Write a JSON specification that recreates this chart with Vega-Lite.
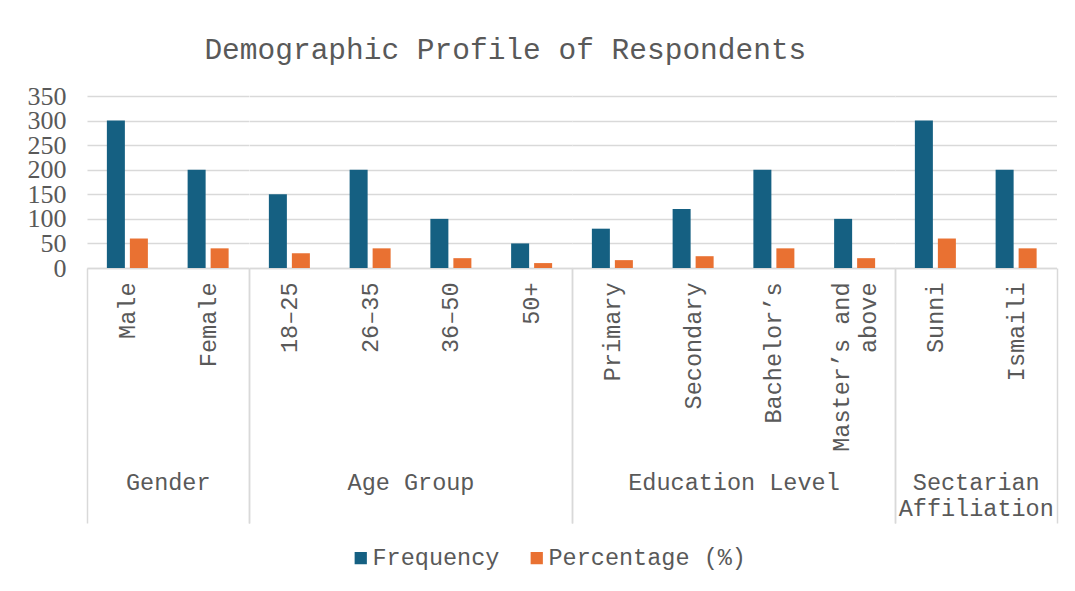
{
  "$schema": "https://vega.github.io/schema/vega-lite/v6.json",
  "background": "white",
  "padding": {"left": 27, "top": 34, "right": 10, "bottom": 10},
  "title": {"text": "Demographic Profile of Respondents", "font": "Liberation Mono", "fontSize": 29.5, "fontWeight": "normal", "color": "#595959", "offset": 18, "anchor": "middle", "dx": -37},
  "data": {"values": [
    {"group": "Gender", "category": "Male", "series": "Frequency", "value": 300},
    {"group": "Gender", "category": "Male", "series": "Percentage (%)", "value": 60},
    {"group": "Gender", "category": "Female", "series": "Frequency", "value": 200},
    {"group": "Gender", "category": "Female", "series": "Percentage (%)", "value": 40},
    {"group": "Age Group", "category": "18–25", "series": "Frequency", "value": 150},
    {"group": "Age Group", "category": "18–25", "series": "Percentage (%)", "value": 30},
    {"group": "Age Group", "category": "26–35", "series": "Frequency", "value": 200},
    {"group": "Age Group", "category": "26–35", "series": "Percentage (%)", "value": 40},
    {"group": "Age Group", "category": "36–50", "series": "Frequency", "value": 100},
    {"group": "Age Group", "category": "36–50", "series": "Percentage (%)", "value": 20},
    {"group": "Age Group", "category": "50+", "series": "Frequency", "value": 50},
    {"group": "Age Group", "category": "50+", "series": "Percentage (%)", "value": 10},
    {"group": "Education Level", "category": "Primary", "series": "Frequency", "value": 80},
    {"group": "Education Level", "category": "Primary", "series": "Percentage (%)", "value": 16},
    {"group": "Education Level", "category": "Secondary", "series": "Frequency", "value": 120},
    {"group": "Education Level", "category": "Secondary", "series": "Percentage (%)", "value": 24},
    {"group": "Education Level", "category": "Bachelor’s", "series": "Frequency", "value": 200},
    {"group": "Education Level", "category": "Bachelor’s", "series": "Percentage (%)", "value": 40},
    {"group": "Education Level", "category": "Master’s and above", "series": "Frequency", "value": 100},
    {"group": "Education Level", "category": "Master’s and above", "series": "Percentage (%)", "value": 20},
    {"group": "Sectarian Affiliation", "category": "Sunni", "series": "Frequency", "value": 300},
    {"group": "Sectarian Affiliation", "category": "Sunni", "series": "Percentage (%)", "value": 60},
    {"group": "Sectarian Affiliation", "category": "Ismaili", "series": "Frequency", "value": 200},
    {"group": "Sectarian Affiliation", "category": "Ismaili", "series": "Percentage (%)", "value": 40}
  ]},
  "spacing": 0,
  "bounds": "flush",
  "hconcat": [
    {
      "width": 161.5, "height": 172,
      "transform": [{"filter": "datum.group === 'Gender'"}],
      "mark": {"type": "bar"},
      "encoding": {
        "x": {"field": "category", "type": "nominal", "sort": null, "scale": {"paddingInner": 0, "paddingOuter": 0},
              "axis": {"title": "Gender", "tickColor": {"condition": {"test": "!datum.extra && datum.value !== 'Female'", "value": "transparent"}, "value": "#d9d9d9"}}},
        "xOffset": {"field": "series", "type": "nominal", "sort": null, "scale": {"paddingInner": 0.217, "paddingOuter": 0.864}},
        "y": {"field": "value", "type": "quantitative", "scale": {"domain": [0, 350]},
              "axis": {"title": null, "values": [0, 50, 100, 150, 200, 250, 300, 350], "grid": true, "domain": false, "ticks": false, "labelFont": "Liberation Serif", "labelFontSize": 26, "labelColor": "#595959", "labelPadding": 21, "labelOverlap": false, "labelBound": false}},
        "color": {"field": "series", "type": "nominal", "sort": null, "scale": {"domain": ["Frequency", "Percentage (%)"], "range": ["#156082", "#E97132"]}, "legend": {"title": null}}
      }
    },
    {
      "width": 323, "height": 172,
      "transform": [{"filter": "datum.group === 'Age Group'"}],
      "mark": {"type": "bar"},
      "encoding": {
        "x": {"field": "category", "type": "nominal", "sort": null, "scale": {"paddingInner": 0, "paddingOuter": 0},
              "axis": {"title": "Age Group", "tickColor": {"condition": {"test": "!datum.extra && datum.value !== '50+'", "value": "transparent"}, "value": "#d9d9d9"}}},
        "xOffset": {"field": "series", "type": "nominal", "sort": null, "scale": {"paddingInner": 0.217, "paddingOuter": 0.864}},
        "y": {"field": "value", "type": "quantitative", "scale": {"domain": [0, 350]},
              "axis": {"title": null, "values": [0, 50, 100, 150, 200, 250, 300, 350], "grid": true, "labels": false, "domain": false, "ticks": false}},
        "color": {"field": "series", "type": "nominal", "sort": null, "scale": {"domain": ["Frequency", "Percentage (%)"], "range": ["#156082", "#E97132"]}, "legend": {"title": null}}
      }
    },
    {
      "width": 323, "height": 172,
      "transform": [{"filter": "datum.group === 'Education Level'"}],
      "mark": {"type": "bar"},
      "encoding": {
        "x": {"field": "category", "type": "nominal", "sort": null, "scale": {"paddingInner": 0, "paddingOuter": 0},
              "axis": {"title": "Education Level", "labelExpr": "datum.label == 'Master’s and above' ? ['Master’s and', 'above'] : datum.label",
                       "labelOffset": {"condition": {"test": "datum.value === 'Master’s and above'", "value": -13.5}, "value": 0},
                       "tickColor": {"condition": {"test": "!datum.extra && datum.value !== 'Master’s and above'", "value": "transparent"}, "value": "#d9d9d9"}}},
        "xOffset": {"field": "series", "type": "nominal", "sort": null, "scale": {"paddingInner": 0.217, "paddingOuter": 0.864}},
        "y": {"field": "value", "type": "quantitative", "scale": {"domain": [0, 350]},
              "axis": {"title": null, "values": [0, 50, 100, 150, 200, 250, 300, 350], "grid": true, "labels": false, "domain": false, "ticks": false}},
        "color": {"field": "series", "type": "nominal", "sort": null, "scale": {"domain": ["Frequency", "Percentage (%)"], "range": ["#156082", "#E97132"]}, "legend": {"title": null}}
      }
    },
    {
      "width": 161.5, "height": 172,
      "transform": [{"filter": "datum.group === 'Sectarian Affiliation'"}],
      "mark": {"type": "bar"},
      "encoding": {
        "x": {"field": "category", "type": "nominal", "sort": null, "scale": {"paddingInner": 0, "paddingOuter": 0},
              "axis": {"title": ["Sectarian", "Affiliation"], "tickColor": {"condition": {"test": "!datum.extra && datum.value !== 'Ismaili'", "value": "transparent"}, "value": "#d9d9d9"}}},
        "xOffset": {"field": "series", "type": "nominal", "sort": null, "scale": {"paddingInner": 0.217, "paddingOuter": 0.864}},
        "y": {"field": "value", "type": "quantitative", "scale": {"domain": [0, 350]},
              "axis": {"title": null, "values": [0, 50, 100, 150, 200, 250, 300, 350], "grid": true, "labels": false, "domain": false, "ticks": false}},
        "color": {"field": "series", "type": "nominal", "sort": null, "scale": {"domain": ["Frequency", "Percentage (%)"], "range": ["#156082", "#E97132"]}, "legend": {"title": null}}
      }
    }
  ],
  "resolve": {"scale": {"x": "independent", "xOffset": "independent", "y": "independent", "color": "shared"}},
  "config": {
    "view": {"stroke": null},
    "axis": {"gridColor": "#d9d9d9", "gridWidth": 1.5},
    "axisX": {
      "labelAngle": -90, "labelFont": "Liberation Mono", "labelFontSize": 23.5, "labelColor": "#595959",
      "labelPadding": -241, "labelLimit": 300, "labelLineHeight": 27,
      "tickBand": "extent", "tickSize": 255, "tickWidth": 1.5,
      "domainColor": "#d9d9d9", "domainWidth": 1.5,
      "titleFont": "Liberation Mono", "titleFontSize": 23.5, "titleFontWeight": "normal", "titleColor": "#595959",
      "titleY": 221, "titleBaseline": "alphabetic", "titleLineHeight": 26
    },
    "legend": {
      "orient": "none", "legendX": 262, "legendY": 450, "direction": "horizontal", "symbolType": "square", "symbolSize": 150, "symbolStrokeWidth": 0,
      "labelFont": "Liberation Mono", "labelFontSize": 23.5, "labelColor": "#595959", "labelOffset": 0, "labelLimit": 400,
      "columnPadding": 25
    }
  }
}
